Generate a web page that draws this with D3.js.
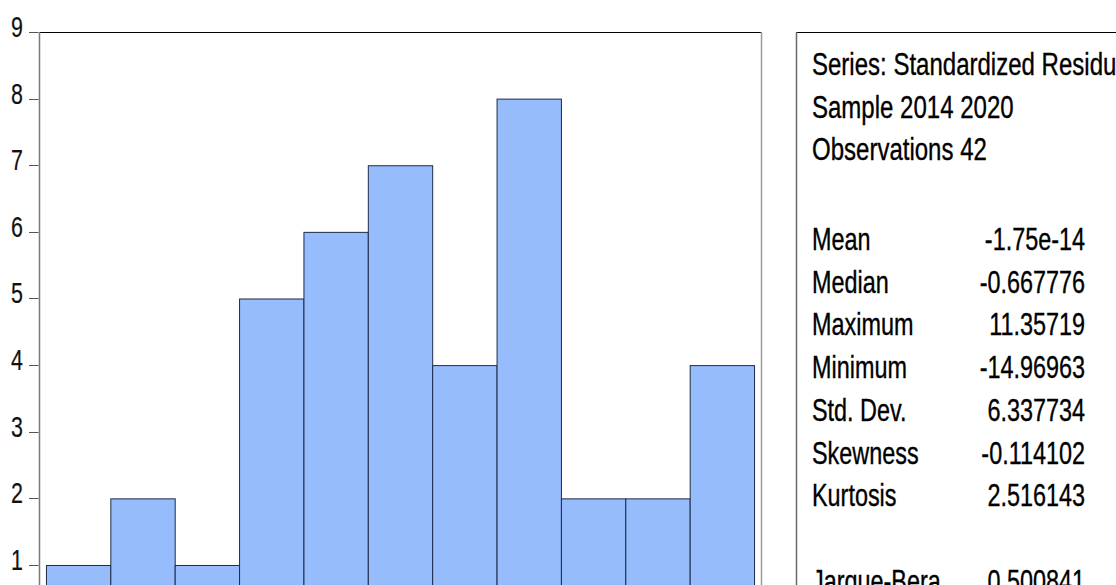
<!DOCTYPE html>
<html>
<head>
<meta charset="utf-8">
<script src="https://cdn.jsdelivr.net/npm/d3@7"></script>
<style>
  html, body { margin: 0; padding: 0; background: #fff; overflow: hidden; }
  svg { display: block; font-family: "Liberation Sans", Arial, sans-serif; }
</style>
</head>
<body>
<svg id="vis" width="1116" height="585"></svg>
<script>
// histogram bins (lower edges) and counts
const binStarts = [-15, -12.5, -10, -7.5, -5, -2.5, 0, 2.5, 5, 7.5, 10]
const binWidth = 2.5
const counts = [1, 2, 1, 5, 6, 7, 4, 8, 2, 2, 4]
const yTicks = [1, 2, 3, 4, 5, 6, 7, 8, 9]

const headerLines = ['Series: Standardized Residuals', 'Sample 2014 2020', 'Observations 42']
const statNames = ['Mean', 'Median', 'Maximum', 'Minimum', 'Std. Dev.', 'Skewness', 'Kurtosis', '', 'Jarque-Bera']
const statValues = ['-1.75e-14', '-0.667776', '11.35719', '-14.96963', '6.337734', '-0.114102', '2.516143', '', '0.500841']

const svg = d3.select('#vis')
const sx = 0.755 // glyphs in the original are horizontally squeezed

const x = d3.scaleLinear().domain([-15.27, 12.77]).range([39, 761])
const y = d3.scaleLinear().domain([0, 9]).range([631.6, 32])

// bars
svg.append('g')
  .selectAll('rect')
  .data(counts)
  .enter()
  .append('rect')
  .attr('x', (d, i) => x(binStarts[i]) + 0.5)
  .attr('y', d => y(d) + 0.5)
  .attr('width', (d, i) => x(binStarts[i] + binWidth) - x(binStarts[i]))
  .attr('height', d => y(0) - y(d))
  .attr('fill', '#97bcfc')
  .attr('stroke', '#1c2b48')
  .attr('stroke-width', 1)

// frame
svg.append('line')
  .attr('x1', 39).attr('x2', 761.5).attr('y1', 32.5).attr('y2', 32.5)
  .attr('stroke', '#000')
svg.append('line')
  .attr('x1', 39.5).attr('x2', 39.5).attr('y1', 32).attr('y2', 585)
  .attr('stroke', '#7a7a7a').attr('stroke-width', 1.5)
svg.append('line')
  .attr('x1', 761.5).attr('x2', 761.5).attr('y1', 32).attr('y2', 585)
  .attr('stroke', '#9a9a9a').attr('stroke-width', 1.5)

// y axis ticks and labels
const ticks = svg.append('g')
  .selectAll('g')
  .data(yTicks)
  .enter()
  .append('g')
ticks.append('line')
  .attr('x1', 29).attr('x2', 38.5)
  .attr('y1', d => Math.round(y(d)) + 0.5)
  .attr('y2', d => Math.round(y(d)) + 0.5)
  .attr('stroke', '#555')
ticks.append('text')
  .attr('transform', d => `translate(23,${y(d) + 5}) scale(0.74,1)`)
  .attr('text-anchor', 'end')
  .attr('font-size', 29)
  .attr('fill', '#111')
  .attr('stroke', '#111')
  .attr('stroke-width', 0.2)
  .text(d => d)

// stats box
svg.append('line')
  .attr('x1', 796).attr('x2', 1116).attr('y1', 32.5).attr('y2', 32.5)
  .attr('stroke', '#000')
svg.append('line')
  .attr('x1', 796.5).attr('x2', 796.5).attr('y1', 32).attr('y2', 585)
  .attr('stroke', '#6a6a6a').attr('stroke-width', 1.5)

const lineStep = 42.7
const box = svg.append('g')
  .attr('font-size', 31)
  .attr('fill', '#000')
  .attr('stroke', '#000')
  .attr('stroke-width', 0.35)
box.selectAll('text.head')
  .data(headerLines)
  .enter()
  .append('text')
  .attr('class', 'head')
  .attr('transform', (d, i) => `translate(812,${75 + i * lineStep}) scale(0.775,1)`)
  .text(d => d)
box.selectAll('text.name')
  .data(statNames)
  .enter()
  .append('text')
  .attr('class', 'name')
  .attr('transform', (d, i) => `translate(812,${250 + i * lineStep}) scale(${sx},1)`)
  .text(d => d)
box.selectAll('text.val')
  .data(statValues)
  .enter()
  .append('text')
  .attr('class', 'val')
  .attr('text-anchor', 'end')
  .attr('transform', (d, i) => `translate(1085,${250 + i * lineStep}) scale(${sx},1)`)
  .text(d => d)
</script>
</body>
</html>
